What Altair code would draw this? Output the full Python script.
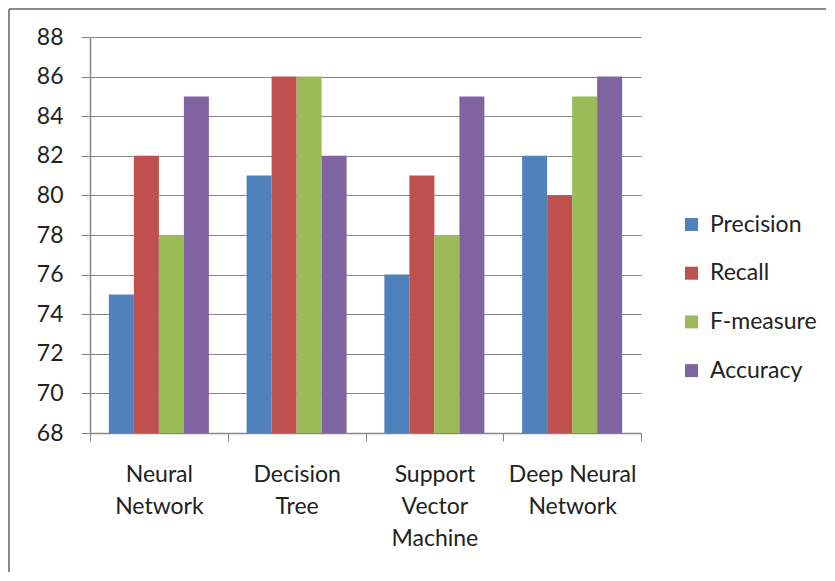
import altair as alt
import pandas as pd

categories = ["Neural|Network", "Decision|Tree", "Support|Vector|Machine", "Deep Neural|Network"]
metrics = ["Precision", "Recall", "F-measure", "Accuracy"]
precision = [75, 81, 76, 82]
recall = [82, 86, 81, 80]
fmeasure = [78, 86, 78, 85]
accuracy = [85, 82, 85, 86]
colors = ["#4F81BD", "#C0504D", "#9BBB59", "#8064A2"]
y_ticks = list(range(68, 89, 2))

rows = []
for i, c in enumerate(categories):
    for m, vals in zip(metrics, [precision, recall, fmeasure, accuracy]):
        rows.append({"model": c, "metric": m, "value": vals[i]})
df = pd.DataFrame(rows)

FONT = "Lato"
GRAY = "#878787"

bars = alt.Chart(df).mark_bar(stroke=None).encode(
    x=alt.X("model:N", sort=categories, title=None,
            scale=alt.Scale(paddingInner=0, paddingOuter=0),
            axis=alt.Axis(labelAngle=0, labelExpr="split(datum.label, '|')",
                          labelFontSize=23, labelLineHeight=32, labelPadding=22,
                          labelColor="#222", labelFont=FONT, labelLimit=300,
                          tickBand="extent", tickSize=8, tickColor=GRAY,
                          domainColor=GRAY, domainWidth=1.5, grid=False,
                          labelBaseline="top")),
    xOffset=alt.XOffset("metric:N", sort=metrics,
                        scale=alt.Scale(paddingOuter=0.755, paddingInner=0)),
    y=alt.Y("value:Q", title=None,
            scale=alt.Scale(domain=[68, 88], zero=False, nice=False),
            axis=alt.Axis(values=y_ticks, labelFontSize=23, labelFont=FONT,
                          labelColor="#222", labelPadding=18, tickSize=9,
                          tickColor=GRAY, domainColor=GRAY, domainWidth=1.5,
                          gridColor=GRAY, gridWidth=1.2)),
    y2=alt.datum(68),
    color=alt.Color("metric:N", sort=metrics, title=None,
                    scale=alt.Scale(domain=metrics, range=colors),
                    legend=alt.Legend(orient="none", legendX=590, legendY=176,
                                      symbolType="square", symbolSize=169,
                                      symbolStrokeWidth=0,
                                      labelFontSize=23, labelFont=FONT,
                                      labelColor="#222", rowPadding=24.7,
                                      labelOffset=7)),
)

one = pd.DataFrame({"a": [0]})
top_edge = alt.Chart(one).mark_rule(color="#8a8a8a", strokeWidth=2).encode(
    x=alt.value(-81), x2=alt.value(736), y=alt.value(-28),
)
left_edge = alt.Chart(one).mark_rule(color="#8a8a8a", strokeWidth=2).encode(
    x=alt.value(-81), y=alt.value(-28), y2=alt.value(535),
)

chart = alt.layer(bars, top_edge, left_edge).properties(
    width=551, height=396
).configure(
    padding=0
).configure_view(stroke=None)

chart.save("out.html", embed_options={"renderer": "svg", "actions": False})
